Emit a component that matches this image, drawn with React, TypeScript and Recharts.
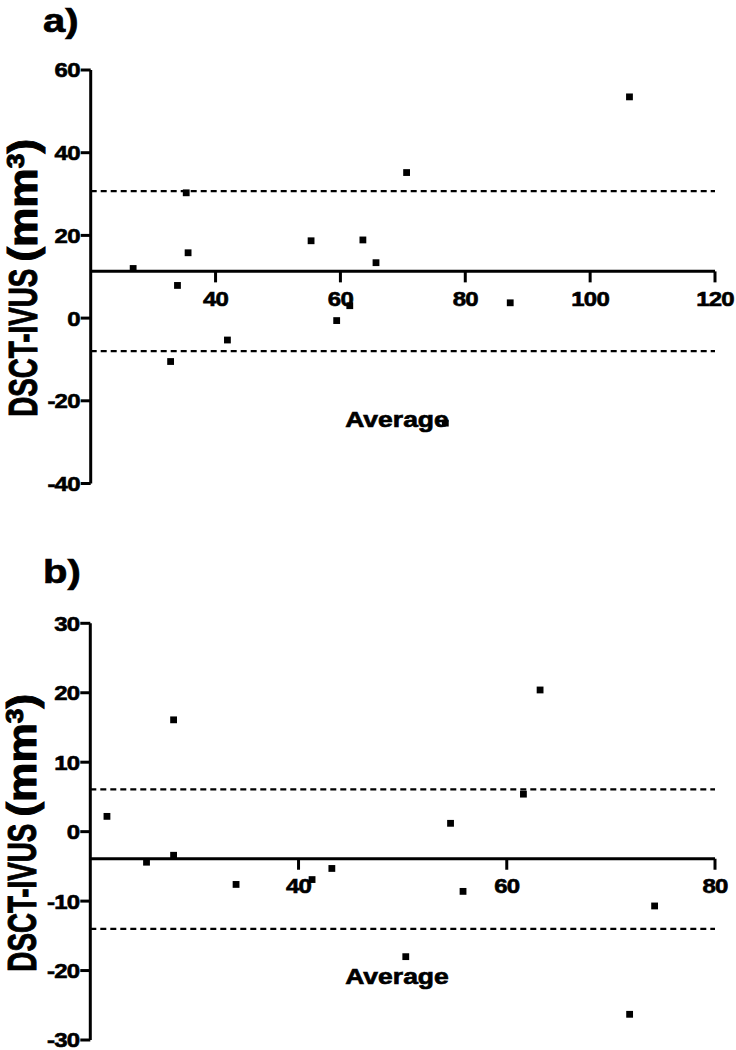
import { ReferenceDot, ReferenceLine, Scatter, ScatterChart, XAxis, YAxis } from 'recharts';

const FONT = '"Liberation Sans", Arial, Helvetica, sans-serif';

// a) average vs difference
const avgA = [26.8, 33.9, 35.3, 35.6, 32.8, 41.9, 55.3, 63.6, 59.4, 61.5, 65.7, 70.6, 87.2, 106.3, 76.8];
const diffA = [12.0, 7.9, 30.3, 15.8, -10.5, -5.3, 18.7, 18.9, -0.6, 3.0, 13.4, 35.2, 3.7, 53.5, -25.4];
const biasA = 11.3;
const limitsA = [-8.0, 30.7];
const xTicksA = [40, 60, 80, 100, 120];
const yTicksA = [-40, -20, 0, 20, 40, 60];

// b)
const avgB = [21.6, 25.4, 28.0, 28.0, 34.0, 43.2, 41.3, 54.6, 61.6, 63.2, 55.8, 50.3, 74.2, 71.8];
const diffB = [2.2, -4.4, 16.1, -3.4, -7.6, -5.3, -6.9, 1.2, 5.4, 20.4, -8.6, -18.0, -10.7, -26.3];
const biasB = -3.9;
const limitsB = [-14.0, 6.1];
const xTicksB = [40, 60, 80];
const yTicksB = [-30, -20, -10, 0, 10, 20, 30];

const xTitle = 'Average';

type PanelProps = {
  avg: number[];
  diff: number[];
  bias: number;
  limits: number[];
  xTicks: number[];
  yTicks: number[];
  xDomain: [number, number];
  margin: { top: number; right: number; bottom: number; left: number };
};

const bold = { fontFamily: FONT, fontWeight: 'bold' as const, fill: '#000', stroke: '#000' };

function Square(p: any) {
  const s = 6.8;
  return <rect x={p.cx - s / 2} y={p.cy - s / 2} width={s} height={s} fill="#000" />;
}

function XTick({ cx, cy, value }: { cx: number; cy: number; value: number }) {
  return (
    <g>
      <line x1={cx} y1={cy} x2={cx} y2={cy + 11} stroke="#000" strokeWidth={3} />
      <g transform={`translate(${cx},${cy + 34.5}) scale(1,0.86)`}>
        <text x={0} y={0} textAnchor="middle" fontSize={24} letterSpacing={-0.8} strokeWidth={0.7} {...bold}>
          {value}
        </text>
      </g>
    </g>
  );
}

const renderYTick = (p: any) => (
  <g transform={`translate(${p.x},${p.y}) scale(1,0.86)`}>
    <text x={0} y={0} dy="0.36em" textAnchor="end" fontSize={24} letterSpacing={-0.8} strokeWidth={0.7} {...bold}>
      {p.payload.value}
    </text>
  </g>
);

const renderYTitle = (p: any) => {
  const vb = p.viewBox || { x: 30, y: 70, width: 60, height: 414 };
  const cx = vb.x + 6;
  const cy = vb.y + vb.height / 2 + 1;
  return (
    <g transform={`translate(${cx},${cy}) rotate(-90)`}>
      <text x={-139} y={0} textLength={148} lengthAdjust="spacingAndGlyphs" fontSize={40} strokeWidth={1} {...bold}>
        DSCT-IVUS
      </text>
      <text x={16} y={0} textLength={123} lengthAdjust="spacingAndGlyphs" fontSize={40} strokeWidth={1} {...bold}>
        (mm
        <tspan dy={-13} fontSize={24}>3</tspan>
        <tspan dy={13}>)</tspan>
      </text>
    </g>
  );
};

function BlandAltman({ avg, diff, bias, limits, xTicks, yTicks, xDomain, margin }: PanelProps) {
  const points = avg.map((x, i) => ({ x, y: diff[i] }));
  const yDomain: [number, number] = [yTicks[0], yTicks[yTicks.length - 1]];
  return (
    <ScatterChart width={736} height={525} margin={margin}>
      <XAxis type="number" dataKey="x" domain={xDomain} allowDataOverflow hide />
      <YAxis
        type="number"
        dataKey="y"
        domain={yDomain}
        ticks={yTicks}
        interval={0}
        allowDataOverflow
        width={60}
        tickSize={10}
        tickMargin={1}
        axisLine={{ stroke: '#000', strokeWidth: 3 }}
        tickLine={{ stroke: '#000', strokeWidth: 3 }}
        tick={renderYTick}
        label={{ content: renderYTitle }}
      />
      <ReferenceLine y={limits[1]} stroke="#000" strokeWidth={2.2} strokeDasharray="6 4" />
      <ReferenceLine y={limits[0]} stroke="#000" strokeWidth={2.2} strokeDasharray="6 4" />
      <ReferenceLine y={bias} stroke="#000" strokeWidth={3} />
      {xTicks.map((t) => (
        <ReferenceDot
          key={t}
          x={t}
          y={bias}
          r={0}
          ifOverflow="visible"
          shape={(p: any) => <XTick cx={p.cx} cy={p.cy} value={t} />}
        />
      ))}
      <Scatter data={points} fill="#000" shape={Square} isAnimationActive={false} />
    </ScatterChart>
  );
}

function Squashed({ x, y, size, k, anchor, text }: { x: number; y: number; size: number; k: number; anchor?: string; text: string }) {
  return (
    <g transform={`translate(${x},${y}) scale(1,${k})`}>
      <text x={0} y={0} textAnchor={anchor || 'start'} fontSize={size} strokeWidth={0.8} {...bold}>
        {text}
      </text>
    </g>
  );
}

export default function App() {
  return (
    <div style={{ position: 'absolute', left: 0, top: 0, width: 736, height: 1050, background: '#fff', overflow: 'hidden' }}>
      <div style={{ position: 'absolute', left: 0, top: 0 }}>
        <BlandAltman
          avg={avgA}
          diff={diffA}
          bias={biasA}
          limits={limitsA}
          xTicks={xTicksA}
          yTicks={yTicksA}
          xDomain={[20, 120]}
          margin={{ top: 70, right: 21, bottom: 41.5, left: 30.7 }}
        />
      </div>
      <div style={{ position: 'absolute', left: 0, top: 525 }}>
        <BlandAltman
          avg={avgB}
          diff={diffB}
          bias={biasB}
          limits={limitsB}
          xTicks={xTicksB}
          yTicks={yTicksB}
          xDomain={[20, 80]}
          margin={{ top: 98.3, right: 21, bottom: 10, left: 30.3 }}
        />
      </div>
      <svg width={736} height={1050} style={{ position: 'absolute', left: 0, top: 0, pointerEvents: 'none' }}>
        <Squashed x={43} y={32} size={40} k={0.85} text="a)" />
        <Squashed x={43} y={583} size={40} k={0.85} text="b)" />
        <Squashed x={397} y={427} size={26.5} k={0.8} anchor="middle" text={xTitle} />
        <Squashed x={397} y={984} size={26.5} k={0.8} anchor="middle" text={xTitle} />
      </svg>
    </div>
  );
}
